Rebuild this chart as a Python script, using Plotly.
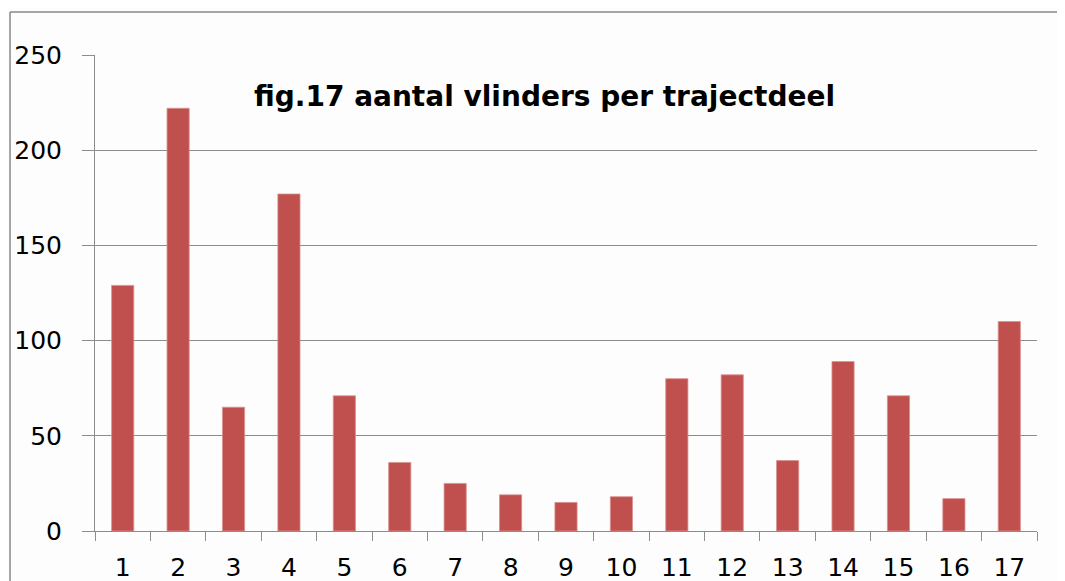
import plotly.graph_objects as go

categories = [str(i) for i in range(1, 18)]
values = [129, 222, 65, 177, 71, 36, 25, 19, 15, 18, 80, 82, 37, 89, 71, 17, 110]
y_ticks = [0, 50, 100, 150, 200, 250]
title_text = "fig.17 aantal vlinders per trajectdeel"

grid = "#8c8c8c"
fig = go.Figure(go.Bar(x=categories, y=values, marker=dict(color="#C0504D", line=dict(color="#d9908e", width=0.8))))

fig.update_layout(
    width=1057, height=573,
    margin=dict(l=87, r=28, t=47, b=50, autoexpand=False),
    paper_bgcolor="#fdfdfd", plot_bgcolor="#fdfdfd",
    bargap=0.6,
    showlegend=False,
    font=dict(family="DejaVu Sans", size=22, color="#000000"),
)
fig.update_yaxes(
    range=[0, 250], tickvals=y_ticks, showgrid=True, gridcolor=grid, gridwidth=1,
    showline=True, linecolor=grid, linewidth=1, ticks="outside", ticklen=12, tickcolor=grid,
    ticklabelstandoff=15, zeroline=False, tickfont=dict(size=25), automargin=False,
)
fig.update_xaxes(
    type="category", showline=True, linecolor=grid, linewidth=1, ticks="outside", ticklen=9,
    tickcolor=grid, tickson="boundaries", ticklabelstandoff=14, showgrid=False, tickfont=dict(size=25),
    automargin=False,
)
fig.add_annotation(
    text="<b>" + title_text + "</b>", xref="paper", yref="paper", x=0.477, y=0.912,
    xanchor="center", yanchor="middle",
    showarrow=False, font=dict(family="DejaVu Sans", size=28, color="#000000"),
)
# outer chart border (left and top)
fig.add_shape(type="line", xref="paper", yref="paper", x0=-0.0902, x1=1.1, y0=1.0903, y1=1.0903,
              line=dict(color="#888888", width=1.5))
fig.add_shape(type="line", xref="paper", yref="paper", x0=-0.0902, x1=-0.0902, y0=-0.2, y1=1.0903,
              line=dict(color="#888888", width=1.5))

fig.write_html("out.html")
